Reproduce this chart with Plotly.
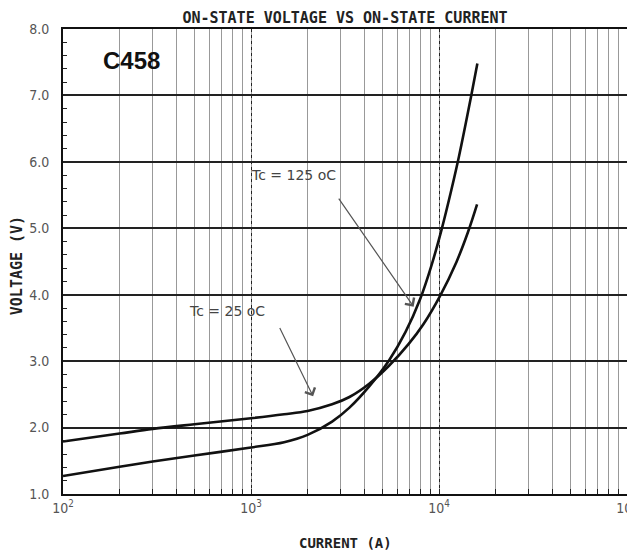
import math
import plotly.graph_objects as go

# ---- data ----
current_25 = [100, 200, 300, 500, 1000, 1500, 2000, 2700, 3340, 4255, 5420, 6900, 8275, 10120, 12370, 14250, 15940]
voltage_25 = [1.79, 1.91, 1.98, 2.05, 2.14, 2.20, 2.25, 2.35, 2.46, 2.66, 2.93, 3.26, 3.56, 3.98, 4.49, 4.94, 5.36]

current_125 = [100, 200, 300, 500, 1000, 1500, 2000, 2700, 3340, 4255, 5420, 6640, 7950, 9140, 10320, 11640, 12770, 14830, 16000]
voltage_125 = [1.27, 1.41, 1.49, 1.58, 1.70, 1.78, 1.89, 2.09, 2.30, 2.62, 3.01, 3.44, 3.94, 4.45, 4.98, 5.58, 6.08, 6.99, 7.48]

x_tick_vals = [100, 1000, 10000, 100000]
x_tick_text = ["10<sup>2</sup>", "10<sup>3</sup>", "10<sup>4</sup>", "10<sup>5</sup>"]
y_tick_vals = [1, 2, 3, 4, 5, 6, 7, 8]

label_125 = {"text": "Tc = 125 oC", "x": 1690, "y": 5.80, "tip_x": 7330, "tip_y": 3.82, "tail_x": 2893, "tail_y": 5.47}
label_25 = {"text": "Tc = 25 oC", "x": 743, "y": 3.75, "tip_x": 2140, "tip_y": 2.47, "tail_x": 1410, "tail_y": 3.52}

FONT = "DejaVu Sans, sans-serif"
COND = "DejaVu Sans Condensed, DejaVu Sans, sans-serif"
MONO = "DejaVu Sans Mono, monospace"

fig = go.Figure()
for cur, volt, nm in ((current_25, voltage_25, "Tc = 25 oC"), (current_125, voltage_125, "Tc = 125 oC")):
    fig.add_trace(go.Scatter(x=cur, y=volt, mode="lines", name=nm, showlegend=False,
                             line=dict(color="#111", width=2.6, shape="spline", smoothing=1.0)))

for lab in (label_125, label_25):
    fig.add_annotation(x=math.log10(lab["x"]), y=lab["y"], text=lab["text"], showarrow=False,
                       xanchor="center", yanchor="middle",
                       font=dict(family=FONT, size=14, color="#444"))
    fig.add_annotation(x=math.log10(lab["tip_x"]), y=lab["tip_y"],
                       ax=math.log10(lab["tail_x"]), ay=lab["tail_y"],
                       axref="x", ayref="y", xref="x", yref="y", text="",
                       showarrow=True, arrowhead=4, arrowsize=1.8, arrowwidth=1.2,
                       arrowcolor="#555")

fig.add_annotation(x=0.1206, y=0.933, xref="paper", yref="paper", text="<b>C458</b>",
                   showarrow=False, xanchor="center", yanchor="middle",
                   font=dict(family="Liberation Sans, Arial", size=24, color="#111"))

# axis titles
fig.add_annotation(x=0.5, y=-0.106, xref="paper", yref="paper", text="<b>CURRENT (A)</b>",
                   showarrow=False, xanchor="center", yanchor="middle",
                   font=dict(family=MONO, size=14, color="#222"))
fig.add_annotation(x=-0.0816, y=0.492, xref="paper", yref="paper", text="<b>VOLTAGE (V)</b>",
                   showarrow=False, textangle=-90, xanchor="center", yanchor="middle",
                   font=dict(family=MONO, size=15, color="#222"))

fig.update_layout(
    width=627, height=544,
    margin=dict(l=55, r=8, t=21, b=58, autoexpand=False),
    paper_bgcolor="white", plot_bgcolor="white",
    title=dict(text="<b>ON-STATE VOLTAGE VS ON-STATE CURRENT</b>", x=0.5, xref="paper",
               y=1 - 10 / 544, yref="container", yanchor="middle",
               font=dict(family=MONO, size=15, color="#222")),
    xaxis=dict(type="log", range=[2, 5], automargin=False,
               tickvals=x_tick_vals, ticktext=x_tick_text, ticklabeloverflow="allow",
               showgrid=True, gridcolor="#222", gridwidth=1.4, griddash="dot",
               ticks="inside", ticklen=5, tickcolor="#222",
               minor=dict(dtick="D1", showgrid=True, gridcolor="#999", gridwidth=1,
                          griddash="solid", ticks="inside", ticklen=5, tickcolor="#222"),
               showline=True, linecolor="#111", linewidth=2, mirror=True,
               tickfont=dict(family=COND, size=14, color="#555"),
               zeroline=False),
    yaxis=dict(range=[1, 8], tickvals=y_tick_vals, tickformat=".1f", automargin=False,
               showgrid=True, gridcolor="#222", gridwidth=1.5,
               ticks="inside", ticklen=5, tickcolor="#222",
               minor=dict(dtick=0.2, ticks="inside", ticklen=4, tickcolor="#222", showgrid=False),
               showline=True, linecolor="#111", linewidth=2, mirror=True,
               tickfont=dict(family=COND, size=14, color="#555"),
               ticklabelstandoff=9,
               zeroline=False),
)

fig.write_html("out.html")
